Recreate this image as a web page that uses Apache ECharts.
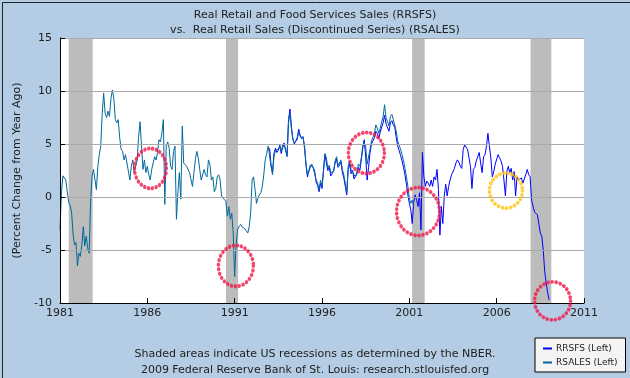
<!DOCTYPE html>
<html>
<head>
<meta charset="utf-8">
<script src="https://cdn.jsdelivr.net/npm/echarts@6/dist/echarts.min.js"></script>
<style>
html,body{margin:0;padding:0;background:#b4cde4;}
#c{width:630px;height:378px;}
</style>
</head>
<body>
<div id="c"></div>
<script>
// ---------- DATA ----------
const rsalesStart = 1981;   // first month: Jan 1981
const rsales = [
 -3.1, 0.5, 2.0, 1.9, 1.6, 0.5, -0.5, -0.8, -1.5, -3.5, -4.5, -4.3,
 -6.5, -5.3, -5.6, -4.5, -2.8, -4.6, -3.7, -4.8, -5.3, -0.5, 1.9, 2.6,
 2.7, 0.7, 2.9, 4.0, 4.8, 7.9, 9.8, 7.9, 7.5, 8.1, 7.6, 9.3,
 10.1, 9.3, 7.3, 7.0, 7.3, 5.6, 4.5, 4.3, 3.5, 4.0, 3.2, 3.3,
 1.6, 2.9, 3.5, 2.3, 2.9, 3.5, 5.7, 7.1, 4.8, 2.6, 3.5, 2.3,
 2.9, 2.1, 1.6, 2.6, 3.2, 3.8, 3.5, 4.2, 5.4, 5.2, 6.0, 7.3,
 -0.7, 4.8, 5.2, 4.6, 2.9, 2.6, 4.3, 4.8, -2.1, 0.4, 2.3, -0.2,
 6.7, 3.2, 3.2, 2.9, 2.9, 2.3, 2.3, 1.0, 2.3, 3.5, 4.3, 3.7,
 2.6, 1.6, 1.6, 2.6, 2.1, 1.9, 3.5, 3.1, 1.6, 1.9, 0.5, 0.8,
 1.9, 2.1, 1.6, 0.1, -0.1, -0.1, -0.4, -1.8, -0.9, -2.1, -1.5, -3.4,
 -7.5, -4.5, -3.1, -2.8, -2.6, -2.8, -2.8, -3.0, -3.2, -3.4, -2.8, -1.5,
 1.6, 1.9, 0.7, -0.6, -0.1, 0.2, 0.4, 1.0, 2.1, 3.5, 4.1, 4.8,
 4.8, 2.9, 2.1, 3.8, 4.4, 4.3, 4.5, 4.8, 4.3, 4.9, 4.9, 4.5,
 3.8, 7.0, 7.9, 6.4, 5.4, 5.1, 5.1, 5.4, 6.2, 5.7, 5.7, 5.6,
 4.8, 3.2, 2.1, 2.4, 2.8, 3.1, 2.7, 2.6, 1.6, 1.3, 0.7, 1.6,
 1.0, 2.5, 4.1, 3.7, 2.7, 3.0, 2.3, 2.4, 2.4, 3.4, 3.8, 3.0,
 3.2, 3.5, 2.6, 2.1, 1.3, 0.4, 2.9, 3.4, 2.6, 2.7, 2.1, 1.9,
 2.4, 3.1, 2.9, 3.7, 4.8, 5.1, 4.8, 3.1, 3.2, 4.5, 5.3, 5.6,
 6.0, 6.8, 6.5, 6.0, 6.5, 7.1, 7.6, 8.7, 7.5, 7.5, 6.7, 7.6,
 7.8, 7.3, 7.3, 6.2, 5.3, 4.9, 4.5, 4.0, 3.4, 2.7, 1.9, 1.0,
 -0.1, -0.6, -0.3, -0.9
];
const rrsfsStart = 1993;    // first month: Jan 1993
const rrsfs = [
 4.6, 3.0, 2.3, 4.1, 4.6, 4.2, 4.4, 4.9, 4.1, 4.7, 5.1, 4.4,
 3.9, 7.3, 8.3, 6.6, 5.5, 5.0, 5.3, 5.6, 6.4, 5.8, 5.5, 5.7,
 4.6, 3.0, 1.9, 2.5, 3.0, 3.0, 2.8, 2.4, 1.4, 1.1, 0.5, 1.3,
 0.8, 2.4, 4.0, 3.9, 2.5, 2.8, 2.0, 2.2, 2.5, 3.2, 3.6, 2.8,
 3.0, 3.3, 2.3, 1.8, 1.0, 0.2, 2.6, 3.1, 2.2, 2.5, 1.7, 1.6,
 2.2, 2.8, 2.5, 3.5, 4.6, 5.4, 3.8, 1.6, 2.8, 4.2, 5.0, 5.3,
 5.6, 6.2, 6.0, 5.5, 6.1, 6.6, 7.0, 7.7, 6.9, 7.0, 6.2, 7.0,
 7.2, 6.8, 6.6, 5.6, 4.8, 4.4, 3.9, 3.4, 2.8, 2.1, 1.2, 0.2,
 -0.6, -1.2, -2.5, -0.5, 0.2, -0.3, -0.9, 0.4, -3.1, 4.2, 1.9, 1.0,
 1.5, 1.3, 1.0, 1.6, 1.0, 1.9, 1.6, 2.6, 0.7, -3.6, -0.9, -2.5,
 0.1, 1.2, 0.1, 1.0, 1.6, 2.1, 2.1, 2.7, 3.2, 3.5, 3.3, 2.9,
 2.7, 4.5, 4.9, 4.9, 4.5, 3.7, 2.9, 0.8, 2.6, 2.8, 3.4, 3.8,
 4.2, 3.2, 2.3, 3.8, 4.0, 4.8, 6.0, 4.8, 3.7, 1.9, 2.4, 3.1,
 3.2, 4.0, 3.7, 3.4, 2.9, 1.6, 0.1, 2.4, 2.9, 2.3, 2.7, 1.6,
 2.4, 0.1, 1.9, 1.6, 1.5, 1.8, 1.3, 1.3, 2.1, 2.6, 2.1, 1.9,
 -0.3, -0.9, -1.4, -1.3, -1.7, -1.8, -3.4, -3.7, -5.0, -7.0, -8.1, -9.0,
 -9.7
];
// NBER recessions (decimal years, start/end)
const recessions = [[1981.5, 1982.87], [1990.5, 1991.2], [2001.16, 2001.88], [2007.94, 2009.13]];
const xTicks = [1981, 1986, 1991, 1996, 2001, 2006, 2011];
const yTicks = [-10, -5, 0, 5, 10, 15];
// hand-drawn annotation circles (centres in data units)
const redCircles = [[1986.18, 2.7], [1991.07, -6.5], [1998.54, 4.15], [2001.5, -1.37], [2009.2, -9.8]];
const yellowCircles = [[2006.53, 0.6]];

// ---------- BUILD ----------
const toPairs = (arr, start) => arr.map((v, i) => [start + i / 12, v]);
const redSizes = [[32, 40], [35, 41], [36, 41], [43, 48], [36, 38]];
const FONT = 'DejaVu Sans';
const dotted = c => ({color: 'rgba(0,0,0,0)', borderColor: c, borderWidth: 3.8, borderType: [0.1, 4.2], borderCap: 'round'});

const chart = echarts.init(document.getElementById('c'), null, {renderer: 'canvas'});
chart.setOption({
  backgroundColor: '#b4cde4',
  animation: false,
  textStyle: {fontFamily: FONT},
  title: {
    text: 'Real Retail and Food Services Sales (RRSFS)\nvs.  Real Retail Sales (Discontinued Series) (RSALES)',
    left: 'center', top: 3,
    textStyle: {fontFamily: FONT, fontSize: 11, fontWeight: 'normal', color: '#222', lineHeight: 15}
  },
  graphic: [
    {type: 'text', left: 'center', top: 346, style: {
      text: 'Shaded areas indicate US recessions as determined by the NBER.\n2009 Federal Reserve Bank of St. Louis: research.stlouisfed.org',
      font: '11px "DejaVu Sans"', fill: '#222', textAlign: 'center', lineHeight: 16}},
    {type: 'rect', left: 0, top: 0, z: 100, silent: true,
      shape: {x: 0.5, y: 0.5, width: 629, height: 377},
      style: {fill: 'none', stroke: '#222', lineWidth: 1}}
  ],
  legend: {
    data: ['RRSFS (Left)', 'RSALES (Left)'],
    orient: 'vertical', left: 535, top: 338,
    backgroundColor: '#f4f4f4', borderColor: '#000', borderWidth: 1,
    padding: [6, 8, 5, 8], itemGap: 5,
    itemWidth: 9, itemHeight: 2, icon: 'rect',
    textStyle: {fontFamily: FONT, fontSize: 9, color: '#222', padding: [0, 0, 0, -1]}
  },
  grid: {left: 60, right: 46, top: 38, bottom: 75, show: true, backgroundColor: '#ffffff', borderWidth: 0},
  xAxis: {
    type: 'value', min: xTicks[0], max: xTicks[xTicks.length - 1], interval: 5, z: 5,
    axisLine: {show: true, onZero: false, lineStyle: {color: '#000', width: 1}},
    axisTick: {show: true, inside: true, length: 5, lineStyle: {color: '#000'}},
    axisLabel: {color: '#222', fontSize: 11, fontFamily: FONT, margin: 5, formatter: v => String(v)},
    splitLine: {show: false}
  },
  yAxis: {
    type: 'value', min: yTicks[0], max: yTicks[yTicks.length - 1], interval: 5, z: 5,
    name: '(Percent Change from Year Ago)', nameLocation: 'middle', nameGap: 26,
    nameTextStyle: {color: '#222', fontSize: 11, fontFamily: FONT},
    axisLine: {show: true, lineStyle: {color: '#000', width: 1}},
    axisTick: {show: true, inside: true, length: 5, lineStyle: {color: '#000'}},
    axisLabel: {color: '#222', fontSize: 11, fontFamily: FONT, margin: 8},
    splitLine: {show: true, lineStyle: {color: '#aaaaaa', width: 1}}
  },
  series: [
    {
      name: 'recessions', type: 'line', data: [], z: 1, silent: true,
      markArea: {silent: true, itemStyle: {color: '#bcbcbc'},
        data: recessions.map(r => [{xAxis: r[0]}, {xAxis: r[1]}])}
    },
    {
      name: 'RRSFS (Left)', type: 'line', data: toPairs(rrsfs, rrsfsStart), z: 3,
      showSymbol: false, symbol: 'none', color: '#0000ff',
      lineStyle: {color: '#0000ff', width: 1}
    },
    {
      name: 'RSALES (Left)', type: 'line', data: toPairs(rsales, rsalesStart), z: 4,
      showSymbol: false, symbol: 'none', color: '#00699b',
      lineStyle: {color: '#00699b', width: 1}
    },
    {
      name: 'annotations', type: 'scatter', z: 10, silent: true, clip: false,
      symbol: 'circle',
      data: redCircles.map((c, i) => ({value: c, symbolSize: redSizes[i], itemStyle: dotted('#f0194b')}))
        .concat(yellowCircles.map(c => ({value: c, symbolSize: [33, 35], itemStyle: dotted('#fcc60c')})))
    }
  ]
});
</script>
</body>
</html>
